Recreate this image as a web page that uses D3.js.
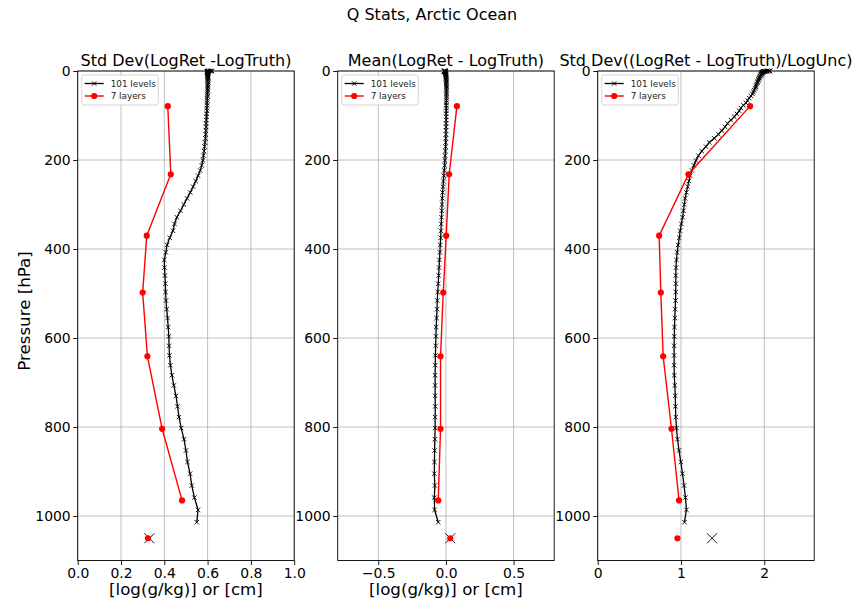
<!DOCTYPE html>
<html><head><meta charset="utf-8">
<script src="https://cdn.jsdelivr.net/npm/d3@7"></script>
<style>body{margin:0;background:#fff}svg{display:block;font-family:"DejaVu Sans",sans-serif}</style>
</head><body><div id="chart"></div>
<script>
// ---- data ----
const levels = [0.0050,0.0161,0.0384,0.0769,0.1370,0.2244,0.3454,0.5064,0.7140,0.9753,1.2972,1.6872,2.1526,2.7009,3.3398,4.0770,4.9204,5.8776,6.9567,8.1655,9.5119,11.0038,12.6492,14.4559,16.4318,18.5847,20.9224,23.4526,26.1829,29.1210,32.2744,35.6505,39.2566,43.1001,47.1882,51.5278,56.1260,60.9895,66.1253,71.5398,77.2396,83.2310,89.5204,96.1138,103.0172,110.2366,117.7775,125.6456,133.8462,142.3848,151.2664,160.4959,170.0784,180.0183,190.3203,200.9887,212.0277,223.4415,235.2338,247.4085,259.9691,272.9191,286.2617,300.0000,314.1369,328.6753,343.6176,358.9665,374.7241,390.8926,407.4738,424.4698,441.8819,459.7118,477.9607,496.6298,515.7200,535.2322,555.1669,575.5248,596.3062,617.5112,639.1398,661.1920,683.6673,706.5654,729.8857,753.6275,777.7897,802.3714,827.3713,852.7880,878.6201,904.8659,931.5236,958.5911,986.0666,1013.9476,1042.2319,1070.9170,1100.0000];

const stdLevels = [0.62,0.62,0.615,0.61,0.605,0.60,0.60,0.598,0.60,0.602,0.603,0.60,0.598,0.60,0.602,0.60,0.598,0.60,0.602,0.60,0.60,0.602,0.60,0.603,0.601,0.60,0.602,0.60,0.603,0.601,0.60,0.602,0.60,0.601,0.60,0.599,0.60,0.598,0.599,0.597,0.598,0.596,0.597,0.595,0.595,0.594,0.593,0.593,0.592,0.591,0.59,0.588,0.586,0.584,0.581,0.578,0.573,0.566,0.556,0.545,0.533,0.52,0.505,0.49,0.475,0.458,0.447,0.44,0.425,0.413,0.407,0.40,0.401,0.403,0.405,0.406,0.408,0.411,0.415,0.418,0.421,0.422,0.424,0.428,0.435,0.444,0.454,0.461,0.468,0.478,0.491,0.50,0.507,0.519,0.527,0.539,0.556,0.55,null,null,null];

const meanLevels = [-0.005,-0.01,-0.015,-0.012,-0.008,-0.01,-0.012,-0.01,-0.008,-0.006,-0.005,-0.004,-0.005,-0.004,-0.003,-0.003,-0.002,-0.002,-0.001,-0.001,0.0,0.0,0.001,0.001,0.002,0.002,0.002,0.003,0.003,0.003,0.003,0.004,0.004,0.004,0.004,0.004,0.004,0.004,0.004,0.003,0.003,0.003,0.003,0.002,0.002,0.002,0.001,0.001,0.0,0.0,-0.001,-0.002,-0.003,-0.004,-0.006,-0.008,-0.01,-0.013,-0.016,-0.019,-0.022,-0.025,-0.027,-0.029,-0.031,-0.033,-0.035,-0.037,-0.039,-0.042,-0.045,-0.048,-0.051,-0.054,-0.057,-0.061,-0.064,-0.066,-0.069,-0.072,-0.074,-0.076,-0.078,-0.079,-0.08,-0.08,-0.08,-0.079,-0.08,-0.08,-0.082,-0.084,-0.085,-0.086,-0.082,-0.086,-0.084,-0.057,null,null,null];

const normLevels = [2.03,2.06,2.07,2.06,2.04,2.03,2.02,2.01,2.0,2.0,1.99,1.99,1.98,1.98,1.98,1.97,1.97,1.97,1.96,1.96,1.96,1.95,1.95,1.94,1.94,1.93,1.93,1.92,1.92,1.91,1.90,1.90,1.89,1.88,1.87,1.86,1.84,1.82,1.80,1.78,1.75,1.72,1.70,1.67,1.64,1.60,1.56,1.53,1.49,1.45,1.40,1.34,1.30,1.25,1.21,1.18,1.155,1.13,1.11,1.095,1.08,1.065,1.05,1.04,1.03,1.02,1.005,0.99,0.98,0.966,0.955,0.946,0.94,0.938,0.938,0.937,0.935,0.93,0.926,0.922,0.92,0.918,0.918,0.918,0.92,0.926,0.932,0.934,0.938,0.946,0.958,0.977,0.998,1.018,1.037,1.054,1.066,1.042,null,null,null];

const layerPressures = [79, 232, 370, 498, 641, 804, 965];
const stdLayers  = [0.416, 0.43, 0.319, 0.30, 0.322, 0.39, 0.482];
const meanLayers = [0.081, 0.024, 0.002, -0.02, -0.04, -0.04, -0.057];
const normLayers = [1.83, 1.09, 0.738, 0.758, 0.786, 0.886, 0.977];

const columnPressure = 1050;
const columnLevels = [0.331, 0.032, 1.373];   // big X markers (101 levels total column)
const columnLayers = [0.325, 0.032, 0.958];   // red dots (7 layers total column)

const panelTitles = ["Std Dev(LogRet -LogTruth)", "Mean(LogRet - LogTruth)", "Std Dev((LogRet - LogTruth)/LogUnc)"];
const xDomains = [[0, 1], [-0.8, 0.8], [0, 2.6]];
const xTicks = [[0, 0.2, 0.4, 0.6, 0.8, 1.0], [-0.5, 0, 0.5], [0, 1, 2]];
const xTickFormats = [".1f", ".1f", "d"];
const yTicks = [0, 200, 400, 600, 800, 1000];
const seriesNames = ["101 levels", "7 layers"];

// ---- layout ----
const W = 854, H = 601;
const svg = d3.select("#chart").append("svg").attr("width", W).attr("height", H);
const lefts = [77.7, 337.7, 597.7], pw = 216.5, yTop = 71, yBot = 560.5;
const y = d3.scaleLinear().domain([0, 1100]).range([yTop, yBot]);

svg.append("text").attr("x", 432).attr("y", 20).attr("text-anchor", "middle")
  .attr("font-size", 16).text("Q Stats, Arctic Ocean");
svg.append("text").attr("transform", `translate(30,311) rotate(-90)`)
  .attr("text-anchor", "middle").attr("font-size", 16.67).text("Pressure [hPa]");

const lvlSets = [stdLevels, meanLevels, normLevels];
const laySets = [stdLayers, meanLayers, normLayers];

function xMark(g, cx, cy, s, sw) {
  g.append("path").attr("d", `M${cx - s},${cy - s}L${cx + s},${cy + s}M${cx - s},${cy + s}L${cx + s},${cy - s}`)
    .attr("stroke", "#000").attr("stroke-width", sw).attr("fill", "none");
}

for (let i = 0; i < 3; i++) {
  const L = lefts[i];
  const x = d3.scaleLinear().domain(xDomains[i]).range([L, L + pw]);
  const g = svg.append("g");

  // grid
  g.selectAll(".gx").data(xTicks[i]).join("line")
    .attr("x1", d => x(d)).attr("x2", d => x(d)).attr("y1", yTop).attr("y2", yBot)
    .attr("stroke", "#b0b0b0").attr("stroke-width", 0.8);
  g.selectAll(".gy").data(yTicks).join("line")
    .attr("x1", L).attr("x2", L + pw).attr("y1", d => y(d)).attr("y2", d => y(d))
    .attr("stroke", "#b0b0b0").attr("stroke-width", 0.8);

  // axes
  const ax = g.append("g").attr("transform", `translate(0,${yBot})`)
    .call(d3.axisBottom(x).tickValues(xTicks[i]).tickFormat(d3.format(xTickFormats[i])).tickSize(4.5).tickPadding(3));
  const ay = g.append("g").attr("transform", `translate(${L},0)`)
    .call(d3.axisLeft(y).tickValues(yTicks).tickFormat(d3.format("d")).tickSize(4.5).tickPadding(2.5));
  [ax, ay].forEach(a => {
    a.select(".domain").remove();
    a.selectAll("text").attr("font-size", 13.9).attr("font-family", "DejaVu Sans").attr("fill", "#000");
    a.selectAll("line").attr("stroke", "#000").attr("stroke-width", 0.9);
  });
  ax.selectAll("text").text(function () { return this.textContent.replace("-", "\u2212"); });
  g.append("rect").attr("x", L).attr("y", yTop).attr("width", pw).attr("height", yBot - yTop)
    .attr("fill", "none").attr("stroke", "#000").attr("stroke-width", 0.9);

  // 101 levels
  const pts = levels.map((p, k) => [lvlSets[i][k], p]).filter(d => d[0] != null);
  const line = d3.line().x(d => x(d[0])).y(d => y(d[1]));
  g.append("path").datum(pts).attr("d", line).attr("fill", "none").attr("stroke", "#000").attr("stroke-width", 1.3);
  pts.forEach(d => xMark(g, x(d[0]), y(d[1]), 2.2, 0.9));

  // 7 layers
  const lp = layerPressures.map((p, k) => [laySets[i][k], p]);
  g.append("path").datum(lp).attr("d", line).attr("fill", "none").attr("stroke", "#f00").attr("stroke-width", 1.4);
  g.selectAll(".rd").data(lp).join("circle").attr("cx", d => x(d[0])).attr("cy", d => y(d[1])).attr("r", 3.1).attr("fill", "#f00");

  // total column
  xMark(g, x(columnLevels[i]), y(columnPressure), 5, 0.9);
  g.append("circle").attr("cx", x(columnLayers[i])).attr("cy", y(columnPressure)).attr("r", 3.1).attr("fill", "#f00");

  // titles
  g.append("text").attr("x", L + pw / 2).attr("y", 66).attr("text-anchor", "middle").attr("font-size", 16).text(panelTitles[i]);
  if (i < 2) g.append("text").attr("x", L + pw / 2).attr("y", 595).attr("text-anchor", "middle").attr("font-size", 16.67).text("[log(g/kg)] or [cm]");

  // legend
  const lg = g.append("g").attr("transform", `translate(${L + 4},75)`);
  lg.append("rect").attr("width", 76.6).attr("height", 30).attr("rx", 2.5)
    .attr("fill", "#fff").attr("fill-opacity", 0.8).attr("stroke", "#ccc").attr("stroke-width", 0.8);
  lg.append("line").attr("x1", 3).attr("x2", 22).attr("y1", 8.5).attr("y2", 8.5).attr("stroke", "#000").attr("stroke-width", 1.3);
  xMark(lg, 12.5, 8.5, 2.2, 0.9);
  lg.append("line").attr("x1", 3).attr("x2", 22).attr("y1", 21).attr("y2", 21).attr("stroke", "#f00").attr("stroke-width", 1.4);
  lg.append("circle").attr("cx", 12.5).attr("cy", 21).attr("r", 3.1).attr("fill", "#f00");
  seriesNames.forEach((s, k) => lg.append("text").attr("x", 29).attr("y", 8.5 + k * 12.5).attr("dy", "0.35em")
    .attr("font-size", 8.8).attr("fill", "#222").text(s));
}
</script></body></html>
